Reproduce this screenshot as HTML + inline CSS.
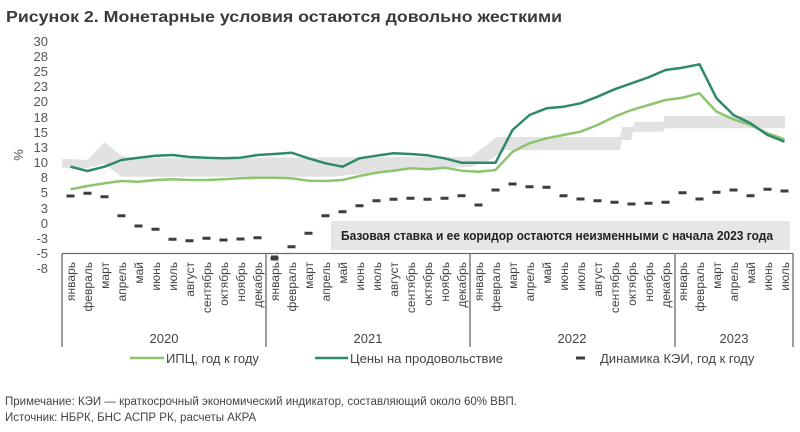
<!DOCTYPE html>
<html><head><meta charset="utf-8"><style>
html,body{margin:0;padding:0;background:#fff;}
svg{display:block;font-family:"Liberation Sans",sans-serif;}
</style></head><body>
<svg width="800" height="432" viewBox="0 0 800 432" xmlns="http://www.w3.org/2000/svg">
<text x="6" y="22" font-size="16" font-weight="bold" fill="#3a3a3a" textLength="556" lengthAdjust="spacingAndGlyphs">Рисунок 2. Монетарные условия остаются довольно жесткими</text>

<g font-size="13" fill="#555" text-anchor="end">
<text x="48" y="46">30</text><text x="48" y="61">28</text><text x="48" y="76">25</text><text x="48" y="91">23</text>
<text x="48" y="106">20</text><text x="48" y="122">18</text><text x="48" y="137">15</text><text x="48" y="152">13</text>
<text x="48" y="167">10</text><text x="48" y="182">8</text><text x="48" y="197">5</text><text x="48" y="213">3</text>
<text x="48" y="228">0</text><text x="48" y="243">-3</text><text x="48" y="258">-5</text><text x="48" y="273">-8</text>
</g>
<text transform="translate(23,155) rotate(-90)" font-size="13" fill="#555" text-anchor="middle">%</text>

<polygon fill="#e2e2e2" points="62,159 70.5,159 87.5,160 104.5,142 121.5,156 138.5,158 400,157 470,157 480,150 497,137 620,137 622,127 633,127 635,122 663,122 665,116 785,116 785,128.3 665,128.3 663,131.7 633,131.7 631,140 622,140 620,150 505,150 490,160 470,167 400,170 333,176.7 121.5,176.7 104.5,164 87.5,168 62,168"/>

<rect x="331" y="221" width="459" height="29" fill="#e6e6e6"/>
<text x="341" y="240" font-size="12.5" font-weight="bold" fill="#222" textLength="432" lengthAdjust="spacingAndGlyphs">Базовая ставка и ее коридор остаются неизменными с начала 2023 года</text>

<polyline fill="none" stroke="#8cc56e" stroke-width="2.5" stroke-linejoin="round" points="70.5,189.3 87.5,186 104.5,183.3 121.5,181 138.5,181.7 155.5,180 172.5,179.3 189.5,180 206.5,180 223.5,179.3 240.5,178.3 257.5,177.7 274.5,177.7 291.5,178.3 308.5,180.7 325.5,181 342.5,180 359.5,176 376.5,172.7 393.5,170.7 410.5,168.3 427.5,169.3 444.5,167.7 461.5,170.7 478.5,171.7 495.5,170 512.5,151.7 529.5,143.3 546.5,138.3 563.5,135 580.5,131.7 597.5,125 614.5,116.7 631.5,110 648.5,105 665.5,100 682.5,97.7 699.5,93.3 716.5,111.7 733.5,119.3 750.5,125 767.5,133.3 784.5,139.3"/>
<polyline fill="none" stroke="#2e8a6a" stroke-width="2.5" stroke-linejoin="round" points="70.5,166.7 87.5,171 104.5,166.7 121.5,160 138.5,157.7 155.5,155.7 172.5,155 189.5,157 206.5,157.7 223.5,158.3 240.5,157.7 257.5,155 274.5,154 291.5,152.7 308.5,158.3 325.5,163.3 342.5,166.7 359.5,158.3 376.5,155.7 393.5,153.3 410.5,154 427.5,155.3 444.5,158.3 461.5,162.7 478.5,162.7 495.5,162.7 512.5,130 529.5,115 546.5,108.3 563.5,106.7 580.5,103.3 597.5,96.7 614.5,89.3 631.5,83.3 648.5,77.3 665.5,70 682.5,67.7 699.5,64.3 716.5,98.3 733.5,115 750.5,123.3 767.5,135 784.5,141.7"/>
<g stroke="#3d3d3d" stroke-width="3">
<path d="M66.5 196h8M83.5 193.3h8M100.5 196.7h8M117.5 215.7h8M134.5 226h8M151.5 229.3h8M168.5 239.3h8M185.5 240.7h8M202.5 238.3h8M219.5 240h8M236.5 239h8M253.5 237.7h8M270.5 258.3h8M287.5 246.7h8M304.5 233.3h8M321.5 215.7h8M338.5 211.7h8M355.5 205.7h8M372.5 200.7h8M389.5 199.3h8M406.5 198.3h8M423.5 199.3h8M440.5 198.3h8M457.5 195.7h8M474.5 205h8M491.5 190h8M508.5 184h8M525.5 186.7h8M542.5 187.3h8M559.5 195.7h8M576.5 199h8M593.5 200.7h8M610.5 202.3h8M627.5 204h8M644.5 203.3h8M661.5 202.3h8M678.5 192.7h8M695.5 199h8M712.5 192.3h8M729.5 190h8M746.5 195.7h8M763.5 189.3h8M780.5 191h8"/>
</g>
<rect x="271" y="255.5" width="7" height="5" fill="#3d3d3d"/>

<g stroke="#6a6a6a" stroke-width="1.3" fill="none">
<path d="M62 253.5H793M62 253.5V347M266 253.5V347M470 253.5V347M675 253.5V347M793 253.5V347"/>
</g>

<g font-size="13" fill="#444" text-anchor="middle">
<text x="164" y="343">2020</text><text x="368" y="343">2021</text><text x="572" y="343">2022</text><text x="734" y="343">2023</text>
</g>

<line x1="130" y1="358" x2="164" y2="358" stroke="#8cc56e" stroke-width="2.5"/>
<text x="166" y="363" font-size="13" fill="#444">ИПЦ, год к году</text>
<line x1="315" y1="358" x2="348" y2="358" stroke="#2e8a6a" stroke-width="2.5"/>
<text x="350" y="363" font-size="13" fill="#444">Цены на продовольствие</text>
<line x1="576" y1="358" x2="585" y2="358" stroke="#3d3d3d" stroke-width="3"/>
<text x="600" y="363" font-size="13" fill="#444">Динамика КЭИ, год к году</text>

<text x="5" y="405" font-size="11.5" fill="#444">Примечание: КЭИ — краткосрочный экономический индикатор, составляющий около 60% ВВП.</text>
<text x="5" y="421" font-size="11.5" fill="#444">Источник: НБРК, БНС АСПР РК, расчеты АКРА</text>

<g font-size="12" fill="#444" text-anchor="end">
<text transform="translate(75,262) rotate(-90)">январь</text>
<text transform="translate(92,262) rotate(-90)">февраль</text>
<text transform="translate(109,262) rotate(-90)">март</text>
<text transform="translate(126,262) rotate(-90)">апрель</text>
<text transform="translate(143,262) rotate(-90)">май</text>
<text transform="translate(160,262) rotate(-90)">июнь</text>
<text transform="translate(177,262) rotate(-90)">июль</text>
<text transform="translate(194,262) rotate(-90)">август</text>
<text transform="translate(211,262) rotate(-90)">сентябрь</text>
<text transform="translate(228,262) rotate(-90)">октябрь</text>
<text transform="translate(245,262) rotate(-90)">ноябрь</text>
<text transform="translate(262,262) rotate(-90)">декабрь</text>
<text transform="translate(279,262) rotate(-90)">январь</text>
<text transform="translate(296,262) rotate(-90)">февраль</text>
<text transform="translate(313,262) rotate(-90)">март</text>
<text transform="translate(330,262) rotate(-90)">апрель</text>
<text transform="translate(347,262) rotate(-90)">май</text>
<text transform="translate(364,262) rotate(-90)">июнь</text>
<text transform="translate(381,262) rotate(-90)">июль</text>
<text transform="translate(398,262) rotate(-90)">август</text>
<text transform="translate(415,262) rotate(-90)">сентябрь</text>
<text transform="translate(432,262) rotate(-90)">октябрь</text>
<text transform="translate(449,262) rotate(-90)">ноябрь</text>
<text transform="translate(466,262) rotate(-90)">декабрь</text>
<text transform="translate(483,262) rotate(-90)">январь</text>
<text transform="translate(500,262) rotate(-90)">февраль</text>
<text transform="translate(517,262) rotate(-90)">март</text>
<text transform="translate(534,262) rotate(-90)">апрель</text>
<text transform="translate(551,262) rotate(-90)">май</text>
<text transform="translate(568,262) rotate(-90)">июнь</text>
<text transform="translate(585,262) rotate(-90)">июль</text>
<text transform="translate(602,262) rotate(-90)">август</text>
<text transform="translate(619,262) rotate(-90)">сентябрь</text>
<text transform="translate(636,262) rotate(-90)">октябрь</text>
<text transform="translate(653,262) rotate(-90)">ноябрь</text>
<text transform="translate(670,262) rotate(-90)">декабрь</text>
<text transform="translate(687,262) rotate(-90)">январь</text>
<text transform="translate(704,262) rotate(-90)">февраль</text>
<text transform="translate(721,262) rotate(-90)">март</text>
<text transform="translate(738,262) rotate(-90)">апрель</text>
<text transform="translate(755,262) rotate(-90)">май</text>
<text transform="translate(772,262) rotate(-90)">июнь</text>
<text transform="translate(789,262) rotate(-90)">июль</text>
</g>
</svg>
</body></html>
